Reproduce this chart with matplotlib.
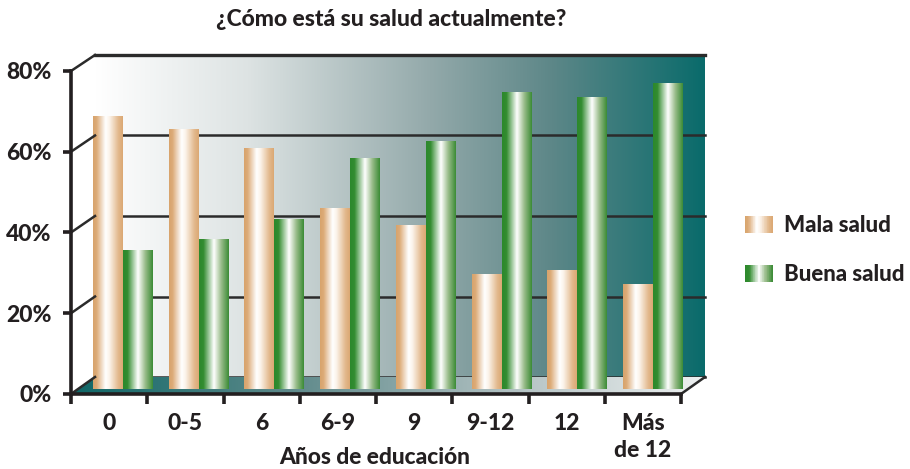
import numpy as np
import matplotlib
matplotlib.use('Agg')
import matplotlib.pyplot as plt
from matplotlib.colors import LinearSegmentedColormap
from matplotlib.patches import Polygon, Rectangle
from matplotlib.lines import Line2D
from matplotlib.legend_handler import HandlerBase

# ---------------- data ----------------
categories = ['0', '0-5', '6', '6-9', '9', '9-12', '12', 'Más\nde 12']
mala_salud = [67.5, 64.3, 59.6, 44.7, 40.5, 28.4, 29.4, 25.9]
buena_salud = [34.3, 37.0, 42.0, 57.1, 61.3, 73.4, 72.2, 75.7]
series_names = ['Mala salud', 'Buena salud']
y_ticks = [0, 20, 40, 60, 80]
y_tick_labels = ['0%', '20%', '40%', '60%', '80%']
title_text = '¿Cómo está su salud actualmente?'
x_label = 'Años de educación'

# ---------------- style ----------------
plt.rcParams['font.family'] = ['Lato', 'DejaVu Sans']
WT = 'black'
TXT = '#231f20'
LINE = '#2b2b2b'
W, H = 910, 469
fig = plt.figure(figsize=(W / 100, H / 100), dpi=100)
fig.patch.set_facecolor('white')


def box(x0, x1, ytop, ybot):
    return [x0 / W, 1 - ybot / H, (x1 - x0) / W, (ybot - ytop) / H]


wall_cmap = LinearSegmentedColormap.from_list(
    'wall', [(0, '#ffffff'), (0.25, '#dde3e3'), (0.55, '#93a9aa'),
             (0.75, '#5d8788'), (1, '#0a6b6b')])
floor_cmap = LinearSegmentedColormap.from_list(
    'floor', [(0, '#0f6767'), (0.35, '#5f8a8b'), (0.7, '#b3c2c3'), (1, '#eef1f1')])
mala_cmap = LinearSegmentedColormap.from_list(
    'mala', [(0, '#d8a46c'), (0.12, '#dcab78'), (0.42, '#ffffff'),
             (0.55, '#fbf3ea'), (0.85, '#e2b88c'), (1, '#dba873')])
buena_cmap = LinearSegmentedColormap.from_list(
    'buena', [(0, '#2c892c'), (0.15, '#338c30'), (0.5, '#ffffff'),
              (0.75, '#97bb88'), (1, '#3b8b35')])

grad = np.linspace(0, 1, 256).reshape(1, -1)
ncat = len(categories)
xlim = (-0.5, ncat - 0.5)
ylim = (0, 80)

# ---------------- back wall ----------------
axw = fig.add_axes(box(95, 705, 55, 377), zorder=0)
axw.imshow(grad, cmap=wall_cmap, aspect='auto', extent=(*xlim, *ylim),
           interpolation='bilinear')
for yv in y_ticks:
    axw.axhline(yv, color=LINE, lw=1.8 if yv != 80 else 2.4, clip_on=False)
axw.set_xlim(*xlim)
axw.set_ylim(*ylim)
axw.set_axis_off()

# ---------------- front axes (for ticks / labels) ----------------
axf = fig.add_axes(box(71, 681, 71, 394), zorder=4)
axf.set_facecolor('none')
axf.set_xlim(*xlim)
axf.set_ylim(*ylim)
for s in ['top', 'right']:
    axf.spines[s].set_visible(False)
for s in ['left', 'bottom']:
    axf.spines[s].set_color(TXT)
    axf.spines[s].set_linewidth(2.6)
axf.set_yticks(y_ticks)
axf.set_yticklabels(y_tick_labels)
axf.tick_params(axis='y', direction='out', length=6, width=2.6, color=TXT,
                pad=8, labelsize=16.5, labelcolor=TXT)
axf.set_xticks(np.arange(-0.5, ncat, 1.0))
axf.set_xticklabels([])
axf.set_xticks(np.arange(ncat), minor=True)
axf.set_xticklabels(categories, minor=True, linespacing=1.33)
axf.tick_params(axis='x', which='major', direction='out', length=7, width=2.6,
                color=TXT)
axf.tick_params(axis='x', which='minor', length=0, pad=14, labelsize=16.5,
                labelcolor=TXT)
for lab in axf.get_yticklabels() + axf.get_xticklabels(minor=True):
    lab.set_fontweight(WT)

# ---------------- floor ----------------
to_fig = fig.transFigure.inverted()
fl = axf.transAxes.transform([(0, 0), (1, 0)])
bl = axw.transAxes.transform([(1, 0), (0, 0)])
floor_pts = to_fig.transform(np.vstack([fl, bl]))
axfl = fig.add_axes([floor_pts[:, 0].min(), floor_pts[:, 1].min(),
                     floor_pts[:, 0].max() - floor_pts[:, 0].min(),
                     floor_pts[:, 1].max() - floor_pts[:, 1].min()], zorder=1)
axfl.set_axis_off()
im_floor = axfl.imshow(grad, cmap=floor_cmap, aspect='auto', extent=(0, 1, 0, 1),
                       interpolation='bilinear')
axfl.set_xlim(0, 1)
axfl.set_ylim(0, 1)
floor_poly = Polygon(floor_pts, closed=True, transform=fig.transFigure,
                     fc='none', ec='none')
im_floor.set_clip_path(floor_poly)

# side-wall / floor edge lines
for yv in y_ticks:
    p0 = to_fig.transform(axf.transAxes.transform((0, yv / 80)))
    p1 = to_fig.transform(axw.transAxes.transform((0, yv / 80)))
    fig.add_artist(Line2D([p0[0], p1[0]], [p0[1], p1[1]], color=LINE,
                          lw=1.8, transform=fig.transFigure, zorder=3))
p0 = to_fig.transform(axf.transAxes.transform((1, 0)))
p1 = to_fig.transform(axw.transAxes.transform((1, 0)))
fig.add_artist(Line2D([p0[0], p1[0]], [p0[1], p1[1]], color=LINE, lw=1.8,
                      transform=fig.transFigure, zorder=3))

# ---------------- bars ----------------
axb = fig.add_axes(box(85.1, 690.9, 66.5, 389.5), zorder=2)
axb.set_facecolor('none')
axb.set_axis_off()
x = np.arange(ncat)
bw = 0.396
bars_m = axb.bar(x - bw / 2, mala_salud, bw, color='none', edgecolor='none')
bars_b = axb.bar(x + bw / 2, buena_salud, bw, color='none', edgecolor='none')
for bars, cmap in [(bars_m, mala_cmap), (bars_b, buena_cmap)]:
    for r in bars:
        x0, y0 = r.get_x(), r.get_y()
        axb.imshow(grad, cmap=cmap, aspect='auto', interpolation='bilinear',
                   extent=(x0, x0 + r.get_width(), y0, y0 + r.get_height()))
axb.set_xlim(*xlim)
axb.set_ylim(*ylim)

# ---------------- legend ----------------
class GradHandler(HandlerBase):
    def __init__(self, cmap):
        super().__init__()
        self.cmap = cmap

    def create_artists(self, legend, orig_handle, xdescent, ydescent, width,
                       height, fontsize, trans):
        n = 40
        arts = []
        for i in range(n):
            arts.append(Rectangle((-xdescent + width * i / n, -ydescent),
                                  width / n * 1.08, height,
                                  fc=self.cmap((i + 0.5) / n), ec='none',
                                  transform=trans))
        return arts


h1 = Rectangle((0, 0), 1, 1)
h2 = Rectangle((0, 0), 1, 1)
leg = fig.legend(handles=[h1, h2], labels=series_names,
                 handler_map={h1: GradHandler(mala_cmap), h2: GradHandler(buena_cmap)},
                 loc='center left', bbox_to_anchor=(745 / W, 1 - 250 / H),
                 frameon=False, borderpad=0, borderaxespad=0,
                 handlelength=1.25, handleheight=0.78, handletextpad=0.52,
                 labelspacing=1.25,
                 prop=dict(weight=WT, size=16))
for t in leg.get_texts():
    t.set_color(TXT)

# ---------------- titles ----------------
fig.text(391 / W, 1 - 20 / H, title_text, ha='center', va='center',
         fontsize=16.5, fontweight=WT, color=TXT)
fig.text(375 / W, 1 - 457 / H, x_label, ha='center', va='center',
         fontsize=16.4, fontweight=WT, color=TXT)

fig.savefig('out.png', dpi=100, facecolor='white')
